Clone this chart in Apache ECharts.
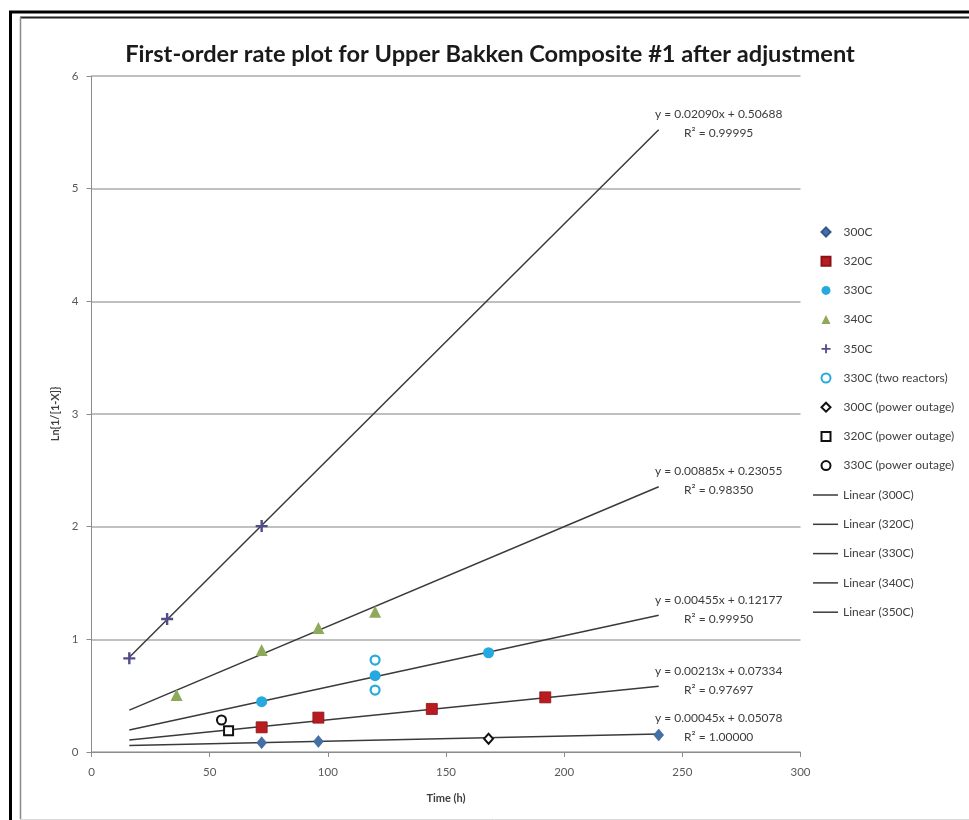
<!DOCTYPE html>
<html>
<head>
<meta charset="utf-8">
<script src="https://cdn.jsdelivr.net/npm/echarts@6/dist/echarts.min.js"></script>
<style>
  html, body { margin: 0; padding: 0; background: #ffffff; }
  #chart { width: 969px; height: 820px; }
</style>
</head>
<body>
<div id="chart"></div>
<script>
// Reaction time (h) and Ln{1/[1-X]} for each temperature run
const t300 = [72, 96, 240];
const v300 = [0.083, 0.094, 0.151];
const t320 = [72, 96, 144, 192];
const v320 = [0.219, 0.305, 0.382, 0.485];
const t330 = [72, 120, 168];
const v330 = [0.447, 0.677, 0.881];
const t340 = [36, 72, 96, 120];
const v340 = [0.506, 0.905, 1.10, 1.245];
const t350 = [16, 32, 72];
const v350 = [0.831, 1.18, 2.005];
const t330two = [120, 120];
const v330two = [0.816, 0.55];
const t300po = [168];
const v300po = [0.118];
const t320po = [58];
const v320po = [0.189];
const t330po = [55];
const v330po = [0.284];

// Linear trendline fits (slope, intercept, R²) drawn over the fitted time span
const fitNames = ['300C', '320C', '330C', '340C', '350C'];
const fitSlope = [0.00045, 0.00213, 0.00455, 0.00885, 0.02090];
const fitIntercept = [0.05078, 0.07334, 0.12177, 0.23055, 0.50688];
const fitR2 = [1.00000, 0.97697, 0.99950, 0.98350, 0.99995];
const fitSpan = [16, 240];

const xTicks = [0, 50, 100, 150, 200, 250, 300];
const yTicks = [0, 1, 2, 3, 4, 5, 6];

const pairs = (xs, ys) => xs.map((x, i) => [x, ys[i]]);

const plusPath = 'path://M4,0H6V4H10V6H6V10H4V6H0V4H4Z';

function pointSeries(name, xs, ys, symbol, size, style) {
  return {
    name: name,
    type: 'scatter',
    data: pairs(xs, ys),
    symbol: symbol,
    symbolSize: size,
    itemStyle: style,
    z: 5
  };
}

const series = [
  pointSeries('300C', t300, v300, 'diamond', [10, 12], { color: '#4470A8', borderColor: '#35598a', borderWidth: 0.5, opacity: 1 }),
  pointSeries('320C', t320, v320, 'rect', 11, { color: '#B81C20', borderColor: '#8a1216', borderWidth: 0.8, opacity: 1 }),
  pointSeries('330C', t330, v330, 'circle', 11, { color: '#26A9E0', opacity: 1 }),
  pointSeries('340C', t340, v340, 'triangle', 12, { color: '#8FA95A', opacity: 1 }),
  pointSeries('350C', t350, v350, plusPath, 12, { color: '#514C8A', opacity: 1 }),
  pointSeries('330C (two reactors)', t330two, v330two, 'circle', 9, { color: '#ffffff', borderColor: '#29ABD9', borderWidth: 2.2, opacity: 1 }),
  pointSeries('300C (power outage)', t300po, v300po, 'diamond', [9, 10], { color: '#ffffff', borderColor: '#111111', borderWidth: 2, opacity: 1 }),
  pointSeries('320C (power outage)', t320po, v320po, 'rect', 9, { color: '#ffffff', borderColor: '#111111', borderWidth: 2, opacity: 1 }),
  pointSeries('330C (power outage)', t330po, v330po, 'circle', 9, { color: '#ffffff', borderColor: '#111111', borderWidth: 2, opacity: 1 })
];
const pointNames = series.map(s => s.name);

fitNames.forEach((n, i) => {
  const s = fitSlope[i], b = fitIntercept[i];
  series.push({
    name: 'Linear (' + n + ')',
    type: 'line',
    data: fitSpan.map(x => [x, s * x + b]),
    symbol: 'none',
    showSymbol: false,
    lineStyle: { color: '#3a3a3a', width: 1.5 },
    itemStyle: { color: '#3a3a3a' },
    z: 3,
    endLabel: {
      show: true,
      formatter: 'y = ' + s.toFixed(5) + 'x + ' + b.toFixed(5) + '\nR\u00B2 = ' + fitR2[i].toFixed(5),
      fontFamily: 'Lato',
      fontSize: 12,
      color: '#3c3c3c',
      lineHeight: 19,
      align: 'center',
      verticalAlign: 'middle',
      distance: 0,
      offset: [60, -6]
    }
  });
});
const lineNames = fitNames.map(n => 'Linear (' + n + ')');

const legendText = { fontFamily: 'Lato', fontSize: 12, color: '#404040' };

const chart = echarts.init(document.getElementById('chart'), null, { renderer: 'canvas' });

chart.setOption({
  backgroundColor: '#ffffff',
  animation: false,
  textStyle: { fontFamily: 'Lato' },
  title: {
    text: 'First-order rate plot for Upper Bakken Composite #1 after adjustment',
    left: 485,
    top: 37,
    textAlign: 'center',
    textStyle: { fontFamily: 'Lato', fontSize: 23.6, fontWeight: 'bold', color: '#1a1a1a' }
  },
  grid: { left: 91.5, top: 76, width: 709, height: 676, containLabel: false },
  legend: [
    {
      orient: 'vertical',
      left: 815.5,
      top: 221,
      padding: 5,
      itemWidth: 9,
      itemHeight: 9,
      itemGap: 17.2,
      textStyle: Object.assign({ padding: [0, 0, 0, 8] }, legendText),
      data: pointNames
    },
    {
      orient: 'vertical',
      left: 808,
      top: 484,
      padding: 5,
      itemWidth: 25,
      itemHeight: 1.5,
      itemGap: 17.3,
      icon: 'rect',
      textStyle: legendText,
      data: lineNames
    }
  ],
  xAxis: {
    type: 'value',
    min: 0,
    max: 300,
    interval: 50,
    name: 'Time (h)',
    nameLocation: 'middle',
    nameGap: 41,
    nameTextStyle: { fontFamily: 'Lato', fontSize: 11, fontWeight: 'bold', color: '#404040' },
    axisLine: { show: true, lineStyle: { color: '#8c8c8c', width: 1 } },
    axisTick: { show: true, length: 5, lineStyle: { color: '#8c8c8c' } },
    axisLabel: { fontFamily: 'Lato', fontSize: 11.5, color: '#595959', margin: 14,
      formatter: v => xTicks.includes(v) ? String(v) : '' },
    splitLine: { show: false }
  },
  yAxis: {
    type: 'value',
    min: 0,
    max: 6,
    interval: 1,
    name: 'Ln{1/[1-X]}',
    nameLocation: 'middle',
    nameGap: 27,
    nameTextStyle: { fontFamily: 'Lato', fontSize: 11, fontWeight: 'bold', color: '#404040' },
    axisLine: { show: true, lineStyle: { color: '#8c8c8c', width: 1 } },
    axisTick: { show: true, length: 5, lineStyle: { color: '#8c8c8c' } },
    axisLabel: { fontFamily: 'Lato', fontSize: 11.5, color: '#595959', margin: 13,
      formatter: v => yTicks.includes(v) ? String(v) : '' },
    splitLine: { show: true, lineStyle: { color: '#ababab', width: 1.5 } }
  },
  graphic: [
    { type: 'rect', silent: true, shape: { x: 10.5, y: 12, width: 1200, height: 1200 },
      style: { fill: null, stroke: '#000000', lineWidth: 3 } },
    { type: 'line', silent: true, shape: { x1: 20, y1: 17.5, x2: 969, y2: 17.5 },
      style: { stroke: '#1e1e1e', lineWidth: 2 } },
    { type: 'line', silent: true, shape: { x1: 20.5, y1: 17, x2: 20.5, y2: 819 },
      style: { stroke: '#8a8a8a', lineWidth: 1.5 } },
    { type: 'line', silent: true, shape: { x1: 20, y1: 819.5, x2: 969, y2: 819.5 },
      style: { stroke: '#d8d8d8', lineWidth: 1 } }
  ],
  series: series
});
</script>
</body>
</html>
